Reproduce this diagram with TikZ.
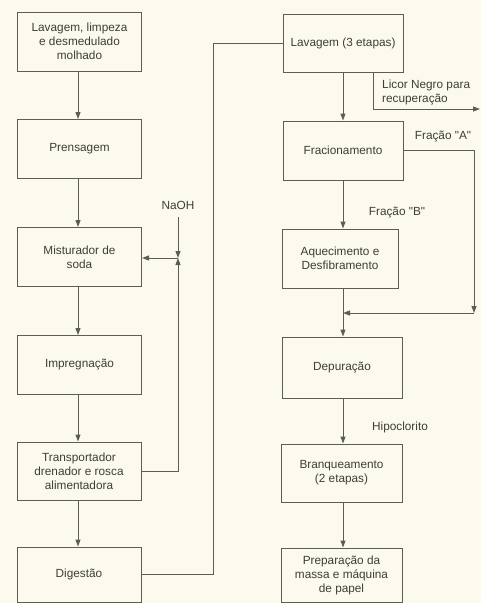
\documentclass[tikz,border=0pt]{standalone}
\usepackage{fontspec}
\setmainfont{Liberation Sans}
\usetikzlibrary{arrows.meta}

\definecolor{fundo}{HTML}{FCFAEE}
\definecolor{linha}{HTML}{5E5E4E}
\definecolor{texto}{HTML}{3E3E32}

\tikzset{
	caixa/.style={draw=linha, line width=1pt, rectangle, minimum width=124pt, minimum height=59pt,
		align=center, inner sep=0pt, text=texto, font=\fontsize{11.8}{14}\selectfont},
	rotulo/.style={text=texto, inner sep=0pt, font=\fontsize{11.8}{14}\selectfont},
	traco/.style={draw=linha, line width=1pt},
	seta/.style={traco, -{Triangle[length=7pt,width=5pt]}}
}

\begin{document}
\begin{tikzpicture}[x=1pt, y=1pt]
		\fill[color=fundo] (0,0) rectangle (481,-603); % fundo e margens

		% Coluna da esquerda
		\node[caixa] (lav) at (79.5,-41.5) {Lavagem, limpeza\\e desmedulado\\molhado};
		\node[caixa] (pren) at (79.5,-149) {Prensagem};
		\node[caixa] (mist) at (79.5,-257) {Misturador de\\soda};
		\node[caixa] (impr) at (79.5,-365) {Impregnação};
		\node[caixa, minimum height=58pt] (transp) at (79,-471) {Transportador\\drenador e rosca\\alimentadora};
		\node[caixa, minimum height=55pt] (dig) at (79,-574.5) {Digestão};

		% Coluna da direita
		\node[caixa, minimum width=120pt, minimum height=58pt] (lav3) at (343,-43) {Lavagem (3 etapas)};
		\node[caixa, minimum width=120pt] (frac) at (343,-150.5) {Fracionamento};
		\node[caixa, minimum width=116pt] (aquec) at (340,-258.5) {Aquecimento e\\Desfibramento};
		\node[caixa, minimum width=120pt, minimum height=61pt] (depur) at (342,-367.5) {Depuração};
		\node[caixa, minimum width=121pt, minimum height=58pt] (branq) at (341.5,-473) {Branqueamento\\(2 etapas)};
		\node[caixa, minimum width=121pt, minimum height=54pt] (prep) at (341.5,-575) {Preparação da\\massa e máquina\\de papel};

		% Rotulos
		\node[rotulo] (naoh) at (178,-205) {NaOH};
		\node[rotulo, align=left, anchor=west] (licor) at (382,-92.5) {Licor Negro para\\recuperação};
		\node[rotulo] (fracA) at (443,-137) {Fração \textquotedbl A\textquotedbl};
		\node[rotulo] (fracB) at (397,-213) {Fração \textquotedbl B\textquotedbl};
		\node[rotulo] (hipo) at (400,-427) {Hipoclorito};

		% Pontos de juncao
		\coordinate (juncN) at (178,-258);
		\coordinate (saida) at (480,-109);
		\coordinate (juncA) at (474,-313);
		\coordinate (juncD) at (343,-313);

		% Fluxo da esquerda
		\draw[seta] ([xshift=-1.5pt]lav.south) -- ([xshift=-1.5pt]lav.south |- pren.north);
		\draw[seta] ([xshift=-1.5pt]pren.south) -- ([xshift=-1.5pt]pren.south |- mist.north);
		\draw[seta] ([xshift=-1.5pt]mist.south) -- ([xshift=-1.5pt]mist.south |- impr.north);
		\draw[seta] ([xshift=-1.5pt]impr.south) -- ([xshift=-1.5pt]impr.south |- transp.north);
		\draw[seta] ([xshift=-1pt]transp.south) -- ([xshift=-1pt]transp.south |- dig.north);

		% NaOH e retorno do transportador
		\draw[seta] ([yshift=-8pt]naoh.south) -- (juncN);
		\draw[seta] (transp.east) -| (juncN);
		\draw[seta] (juncN) -- (juncN -| mist.east);

		% Digestao para lavagem
		\draw[traco] (dig.east) -- ++(71.5,0) |- (lav3.west);

		% Fluxo da direita
		\draw[seta] (lav3) -- (frac);
		\draw[seta] ([xshift=30pt]lav3.south) |- (saida);
		\draw[seta] (juncD |- frac.south) -- (juncD |- aquec.north);
		\draw[seta] (frac.east) -| (juncA);
		\draw[seta] (juncA) -- (juncD);
		\draw[seta] (juncD |- aquec.south) -- (juncD |- depur.north);
		\draw[seta] (juncD |- depur.south) -- (juncD |- branq.north);
		\draw[seta] (juncD |- branq.south) -- (juncD |- prep.north);
	\end{tikzpicture}
\end{document}
